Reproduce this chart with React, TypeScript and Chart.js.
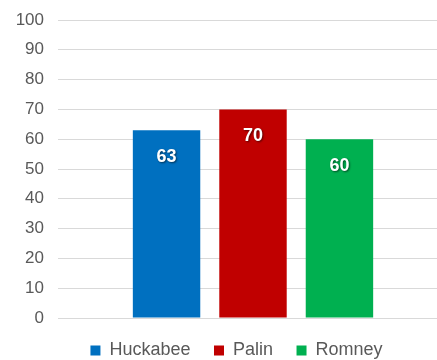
import React, { useEffect, useRef } from "react";
import { Chart, registerables } from "chart.js";

Chart.register(...registerables);

const categories: string[] = [""];
const seriesNames: string[] = ["Huckabee", "Palin", "Romney"];
const seriesValues: number[] = [63, 70, 60];
const seriesColors: string[] = ["#0070C0", "#C00000", "#00B050"];
const yMin = 0;
const yMax = 100;
const yStep = 10;

const FONT = "'Liberation Sans', Arial, sans-serif";

const dataLabelPlugin = {
  id: "barValueLabels",
  afterDatasetsDraw(chart: any) {
    const ctx = chart.ctx;
    ctx.save();
    ctx.font = `bold 18px ${FONT}`;
    ctx.textAlign = "center";
    ctx.textBaseline = "middle";
    ctx.fillStyle = "#FFFFFF";
    ctx.shadowColor = "rgba(0,0,0,0.55)";
    ctx.shadowOffsetX = 1;
    ctx.shadowOffsetY = 1;
    ctx.shadowBlur = 2;
    chart.data.datasets.forEach((ds: any, i: number) => {
      const meta = chart.getDatasetMeta(i);
      meta.data.forEach((el: any, j: number) => {
        const v = ds.data[j];
        ctx.fillText(String(v), el.x, el.y + 26.5);
      });
    });
    ctx.restore();
  },
};

const legendShiftPlugin = {
  id: "legendShift",
  afterLayout(chart: any) {
    const lg = chart.legend;
    if (lg) {
      lg.left += 8.5;
      lg.right += 8.5;
    }
  },
};

export default function App() {
  const canvasRef = useRef<HTMLCanvasElement | null>(null);

  useEffect(() => {
    if (!canvasRef.current) return;
    const chart = new Chart(canvasRef.current, {
      type: "bar",
      data: {
        labels: categories,
        datasets: seriesNames.map((name, i) => ({
          label: name,
          data: [seriesValues[i]],
          backgroundColor: seriesColors[i],
          borderWidth: 0,
          categoryPercentage: 0.665,
          barPercentage: 0.78,
        })),
      },
      options: {
        responsive: false,
        animation: false,
        events: [],
        layout: { padding: { left: 8, right: 24, top: 20, bottom: -9.5 } },
        scales: {
          x: { display: false },
          y: {
            min: yMin,
            max: yMax,
            ticks: {
              stepSize: yStep,
              color: "#595959",
              font: { size: 17, family: FONT },
              padding: 0,
            },
            grid: {
              color: "#D9D9D9",
              lineWidth: 1,
              drawTicks: true,
              tickLength: 14,
              tickColor: "rgba(0,0,0,0)",
            },
            border: { display: false },
            afterFit: (s: any) => {
              s.width = 50;
            },
          },
        },
        plugins: {
          tooltip: { enabled: false },
          legend: {
            position: "bottom",
            labels: {
              color: "#595959",
              font: { size: 18, family: FONT },
              boxWidth: 10,
              boxHeight: 10,
              padding: 23.5,
            },
          },
        },
      },
      plugins: [dataLabelPlugin, legendShiftPlugin],
    });
    return () => chart.destroy();
  }, []);

  return (
    <div
      style={{
        position: "fixed",
        left: 0,
        top: 0,
        width: 437,
        height: 360,
        overflow: "hidden",
        background: "#FFFFFF",
      }}
    >
      <canvas ref={canvasRef} width={472} height={360} style={{ display: "block" }} />
    </div>
  );
}
